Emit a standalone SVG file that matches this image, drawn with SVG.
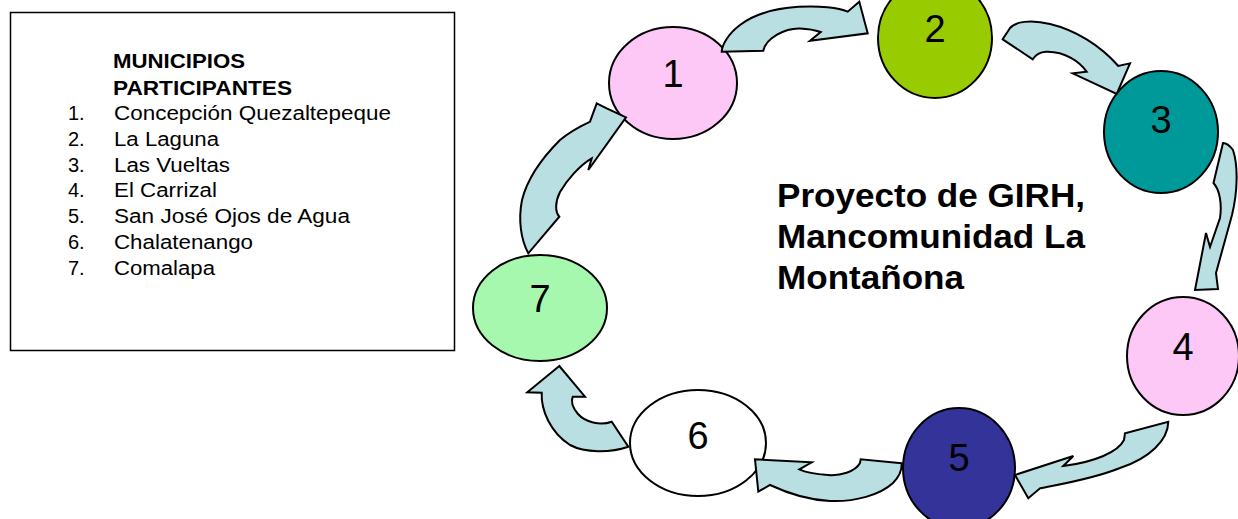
<svg xmlns="http://www.w3.org/2000/svg" width="1238" height="519" viewBox="0 0 1238 519">
<style>
.n{stroke:#000;stroke-width:2}
.num{font-family:"Liberation Sans",Arial,sans-serif;font-size:38px;fill:#000;text-anchor:middle}
.arr{fill:#BADFE3;stroke:#000;stroke-width:2;stroke-linejoin:miter}
.lst{font-family:"Liberation Sans",Arial,sans-serif;font-size:20px;fill:#000}
.hd{font-family:"Liberation Sans",Arial,sans-serif;font-size:20px;font-weight:bold;fill:#000}
.ttl{font-family:"Liberation Sans",Arial,sans-serif;font-size:33px;font-weight:bold;fill:#000}
</style>
<rect width="1238" height="519" fill="#fff"/>
<g id="legend">
<rect x="10.5" y="12.5" width="444" height="338" fill="#fff" stroke="#000" stroke-width="1.5"/>
<text class="hd" x="113" y="68" textLength="132" lengthAdjust="spacingAndGlyphs">MUNICIPIOS</text>
<text class="hd" x="113" y="95" textLength="179" lengthAdjust="spacingAndGlyphs">PARTICIPANTES</text>
<text class="lst" x="68" y="120">1.</text><text class="lst" x="114" y="120" textLength="277" lengthAdjust="spacingAndGlyphs">Concepción Quezaltepeque</text>
<text class="lst" x="68" y="146">2.</text><text class="lst" x="114" y="146" textLength="105" lengthAdjust="spacingAndGlyphs">La Laguna</text>
<text class="lst" x="68" y="172">3.</text><text class="lst" x="114" y="172" textLength="116" lengthAdjust="spacingAndGlyphs">Las Vueltas</text>
<text class="lst" x="68" y="197">4.</text><text class="lst" x="114" y="197" textLength="103" lengthAdjust="spacingAndGlyphs">El Carrizal</text>
<text class="lst" x="68" y="223">5.</text><text class="lst" x="114" y="223" textLength="236" lengthAdjust="spacingAndGlyphs">San José Ojos de Agua</text>
<text class="lst" x="68" y="249">6.</text><text class="lst" x="114" y="249" textLength="139" lengthAdjust="spacingAndGlyphs">Chalatenango</text>
<text class="lst" x="68" y="275">7.</text><text class="lst" x="114" y="275" textLength="101" lengthAdjust="spacingAndGlyphs">Comalapa</text>
</g>
<g id="title">
<text class="ttl" x="777" y="207" textLength="308" lengthAdjust="spacingAndGlyphs">Proyecto de GIRH,</text>
<text class="ttl" x="777" y="248" textLength="308" lengthAdjust="spacingAndGlyphs">Mancomunidad La</text>
<text class="ttl" x="777" y="289" textLength="187" lengthAdjust="spacingAndGlyphs">Montañona</text>
</g>
<g id="node1"><ellipse class="n" cx="673" cy="83" rx="64" ry="56" fill="#FDC8F6"/><text class="num" x="673" y="87">1</text></g>
<g id="node2"><ellipse class="n" cx="935" cy="38" rx="57" ry="60" fill="#99CC00"/><text class="num" x="935" y="42">2</text></g>
<g id="node3"><ellipse class="n" cx="1161" cy="132" rx="57" ry="61" fill="#009999"/><text class="num" x="1161" y="133">3</text></g>
<g id="node4"><ellipse class="n" cx="1183" cy="356" rx="56" ry="59" fill="#FDC8F6"/><text class="num" x="1183" y="360">4</text></g>
<g id="node5"><ellipse class="n" cx="959" cy="468" rx="56" ry="60" fill="#333399"/><text class="num" x="959" y="471">5</text></g>
<g id="node6"><ellipse class="n" cx="698" cy="443" rx="68" ry="53" fill="#FFFFFF"/><text class="num" x="698" y="449">6</text></g>
<g id="node7"><ellipse class="n" cx="540" cy="308" rx="67" ry="53" fill="#A6F8AE"/><text class="num" x="540" y="312">7</text></g>
<g id="connectors">
<path class="arr" d="M721.7,51.7 L763.3,50.7 C766,38 785,28 800,28.5 Q812,29 820.7,32 L810,40.7 L867.7,33.3 L859.3,1.7 L847.7,11.7 C830,4 770,2 740,25 C728,34 722,45 721.7,51.7 Z"/>
<path class="arr" d="M1002.7,39.3 L1032.7,59.3 C1036,54 1040,52 1046,51.7 C1065,51 1080,62 1086.7,71.7 L1072.7,73.3 L1116.7,94 L1130,63.3 L1118.3,66 C1100,45 1075,30 1050,24 C1030,19 1015,22 1010,28 Z"/>
<path class="arr" d="M1223,143 L1213.5,183 C1220,190 1222,205 1220,218 L1210,247 L1206,233 L1195,290 L1218,289 L1216,273 C1220,258 1225,240 1232,215 C1238,190 1238,165 1233,150 C1230,146 1226,143 1223,143 Z"/>
<path class="arr" d="M1168.3,421.7 C1168,440 1150,458 1120,468 C1090,480 1055,485 1040,488.3 L1028.3,498.3 L1015,475 L1073.3,456 L1063.3,466 C1095,462 1118,452 1124,440 L1125,433.3 Z"/>
<path class="arr" d="M901.7,463.3 L860.7,459.3 L860,463 C855,472 840,476 828,475 C815,474 805,472 799.3,469.3 L811.7,462.3 L755,459.3 L758.3,491.7 L770,485 C785,492 808,500 830,501 C855,502 880,495 893,483 C899,477 902,470 901.7,463.3 Z"/>
<path class="arr" d="M559.3,366 L527.3,392.3 L541.7,392.7 C541,410 550,432 570,445 C585,453 610,453 628.3,446.7 L611.7,421.7 C600,426 585,422 578,414 C572,407 571,401 572.7,396.7 L585,396.7 Z"/>
<path class="arr" d="M528.3,253.3 C521,240 518,220 522,200 C527,180 540,160 560,140 C572,130 583,125 590,121.7 L596.7,103.3 L606.7,108.3 L626,117.3 L588.3,170 L591.7,158.3 C580,165 567,180 560,192 C555,202 555,212 559.3,216.7 Z"/>
</g>
</svg>
